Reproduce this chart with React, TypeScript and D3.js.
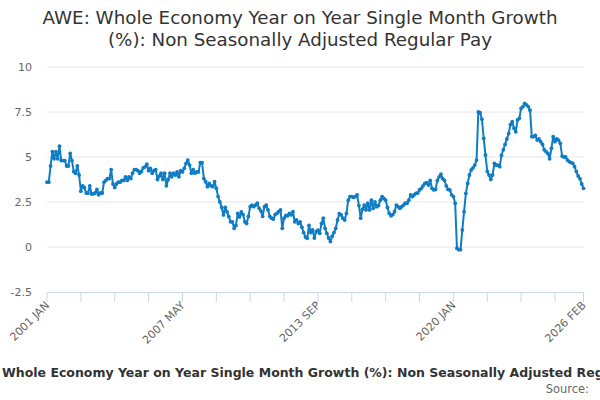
import React from "react";
import * as d3 from "d3";

// monthly values, 2001 JAN .. 2026 FEB
const values: number[] = [
  3.6, 3.6, 4.5, 5.3, 4.9, 5.3, 4.9, 5.6, 4.8, 4.8,
  4.8, 4.5, 4.5, 5.2, 4.8, 4.2, 4.1, 4.5, 4.0, 3.1,
  3.4, 3.3, 3.0, 3.0, 3.4, 2.95, 2.95, 3.0, 3.2, 2.9,
  3.0, 3.0, 3.6, 3.7, 3.8, 3.8, 4.3, 3.5, 3.3, 3.5,
  3.6, 3.6, 3.7, 3.7, 3.9, 3.7, 3.9, 3.8, 4.1, 4.3,
  4.3, 4.24, 4.1, 4.2, 4.4, 4.45, 4.6, 4.24, 4.37, 4.1,
  4.24, 4.3, 3.75, 3.93, 4.1, 3.75, 4.1, 3.4, 3.75, 4.1,
  3.9, 4.1, 4.0, 4.17, 3.9, 4.24, 4.17, 4.37, 4.65, 4.83,
  4.55, 4.1, 4.3, 4.1, 4.17, 4.17, 4.69, 4.69, 3.8, 3.63,
  3.35, 3.53, 3.4, 3.35, 3.63, 3.26, 2.8, 2.5, 2.2, 1.78,
  2.2, 1.95, 1.69, 1.4, 1.4, 1.04, 1.2, 1.87, 1.67, 1.95,
  1.8, 1.4, 1.3, 1.7, 2.24, 2.33, 2.24, 2.33, 2.43, 2.15,
  2.0, 1.7, 2.24, 2.33, 2.06, 1.7, 1.6, 1.55, 1.8, 1.87,
  1.96, 2.06, 1.04, 1.6, 1.75, 1.73, 1.87, 1.78, 1.96, 1.4,
  1.5, 1.3, 1.4, 1.1, 0.8, 0.55, 0.48, 1.2, 0.8, 0.95,
  0.5, 0.85, 0.94, 0.76, 1.3, 1.6, 1.04, 0.76, 0.5, 0.3,
  0.6, 0.8, 1.04, 1.5, 1.85, 1.78, 1.6, 1.5, 1.87, 2.6,
  2.8, 2.8, 2.76, 2.8, 2.9, 2.3, 1.6, 2.1, 2.33, 2.06,
  2.43, 2.06, 2.6, 2.15, 2.5, 2.24, 2.3, 2.6, 2.8, 2.7,
  2.6, 2.2, 1.87, 1.73, 1.8, 1.96, 2.33, 2.24, 2.15, 2.24,
  2.33, 2.43, 2.43, 2.6, 2.9, 2.8, 2.9, 2.98, 3.0, 3.17,
  3.26, 3.4, 3.53, 3.57, 3.44, 3.7, 3.26, 3.17, 3.2, 3.7,
  3.9, 4.05, 3.8, 3.7, 3.4, 3.2, 3.17, 2.9, 2.8, 2.43,
  -0.07, -0.15, -0.15, 0.94, 1.96, 2.98, 3.53, 4.0, 4.28, 4.4,
  4.55, 4.83, 7.5, 7.46, 7.1, 6.04, 5.11, 4.2, 4.0, 3.75,
  4.0, 4.65, 4.55, 4.55, 4.46, 5.1, 5.4, 5.7, 6.0, 6.3,
  6.8, 6.96, 6.6, 6.4, 7.06, 7.15, 7.7, 7.8, 7.98, 7.9,
  7.8, 7.6, 6.13, 6.13, 6.2, 5.94, 6.0, 5.85, 5.7, 5.4,
  5.3, 5.2, 4.9, 5.48, 6.13, 5.85, 6.0, 5.94, 5.76, 5.05,
  5.0, 5.0, 4.83, 4.74, 4.69, 4.65, 4.46, 4.19, 3.95, 3.8,
  3.5, 3.26,
];

const yTicks = [-2.5, 0, 2.5, 5, 7.5, 10];
const tickStep = 19;
const labelIdx = [0, 76, 152, 228, 301];
const labels = ["2001 JAN", "2007 MAY", "2013 SEP", "2020 JAN", "2026 FEB"];

const titleLines = [
  "AWE: Whole Economy Year on Year Single Month Growth",
  "(%): Non Seasonally Adjusted Regular Pay",
];
const axisTitle =
  "Whole Economy Year on Year Single Month Growth (%): Non Seasonally Adjusted Regular Pay";

const W = 600;
const H = 400;
const left = 47;
const right = 583.5;
const top = 67;
const bottom = 292;
const blue = "#0f7cc4";
const font = "'DejaVu Sans', sans-serif";

export default function App() {
  const n = values.length;
  const x = d3.scaleLinear().domain([0, n - 1]).range([left, right]);
  const y = d3.scaleLinear().domain([-2.5, 10]).range([bottom, top]);

  const line = d3
    .line<number>()
    .x((_, i) => x(i))
    .y((d) => y(d));

  const ticks = d3.range(0, n, tickStep);
  if (ticks[ticks.length - 1] !== n - 1) ticks.push(n - 1);

  return (
    <svg
      width={W}
      height={H}
      style={{ position: "absolute", left: 0, top: 0, fontFamily: font }}
    >
      <rect width={W} height={H} fill="#fff" />
      {titleLines.map((t, i) => (
        <text key={i} x={W / 2} y={24 + i * 22} textAnchor="middle" fontSize={18.3} fill="#333">
          {t}
        </text>
      ))}

      {/* grid */}
      {yTicks.map((v) =>
        v === -2.5 ? null : (
          <line key={v} x1={left} x2={right + 1} y1={y(v)} y2={y(v)} stroke="#e6e6e6" />
        )
      )}
      {yTicks.map((v) => (
        <text key={"l" + v} x={32} y={y(v) + 4} textAnchor="end" fontSize={11} fill="#666">
          {v}
        </text>
      ))}

      {/* x axis */}
      <line x1={left} x2={right + 1} y1={bottom + 0.5} y2={bottom + 0.5} stroke="#ccd6eb" />
      {ticks.map((t) => (
        <line key={t} x1={x(t)} x2={x(t)} y1={bottom} y2={bottom + 10} stroke="#ccd6eb" />
      ))}
      {labelIdx.map((t, i) => (
        <text
          key={t}
          transform={`translate(${x(t) + 3},${bottom + 14}) rotate(-45)`}
          textAnchor="end"
          fontSize={11}
          fill="#666"
        >
          {labels[i]}
        </text>
      ))}

      <path d={line(values) ?? ""} fill="none" stroke={blue} strokeWidth={2} strokeLinejoin="round" />
      {values.map((v, i) => (
        <circle key={i} cx={x(i)} cy={y(v)} r={1.9} fill={blue} />
      ))}

      <text x={2} y={377} fontSize={12.5} fontWeight="bold" fill="#333">
        {axisTitle}
      </text>
      <text x={589} y={393} textAnchor="end" fontSize={11.5} fill="#666">
        Source:
      </text>
    </svg>
  );
}
